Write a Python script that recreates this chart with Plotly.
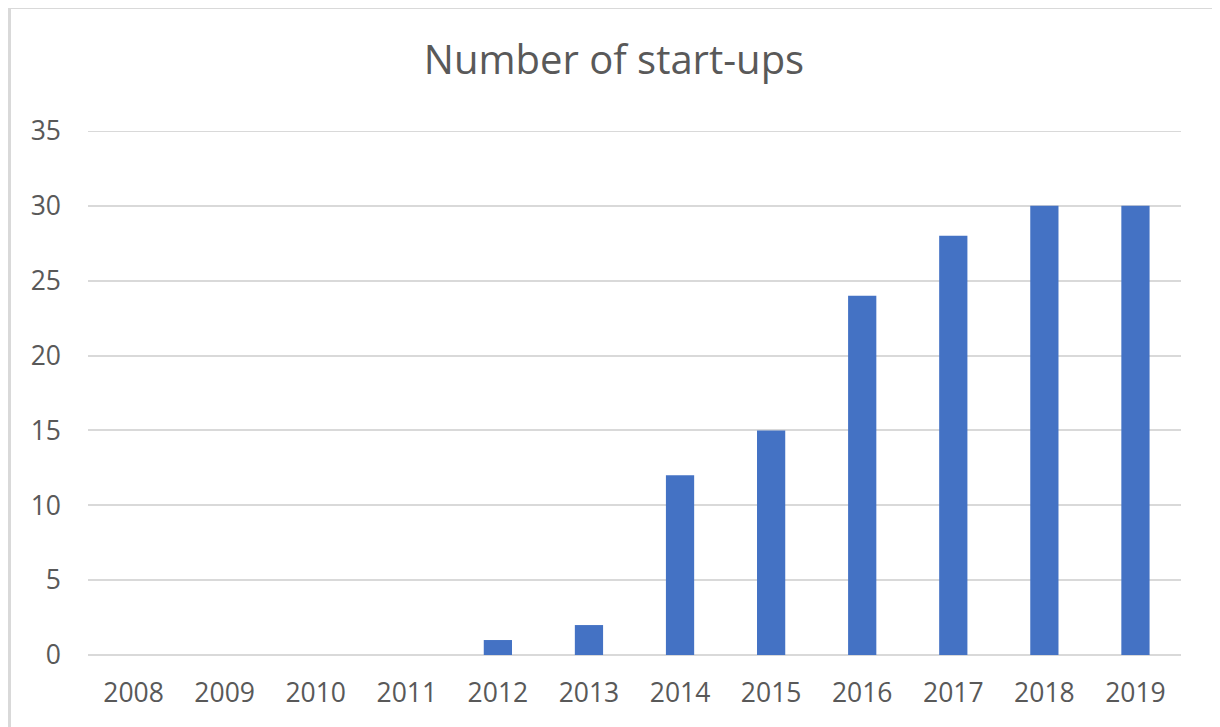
import plotly.graph_objects as go

years = ["2008", "2009", "2010", "2011", "2012", "2013", "2014", "2015", "2016", "2017", "2018", "2019"]
startups = [0, 0, 0, 0, 1, 2, 12, 15, 24, 28, 30, 30]
y_ticks = [0, 5, 10, 15, 20, 25, 30, 35]

# page has an 8px body margin, so the figure is sized to fit the window
W, H = 1212, 719
L, R, T, B = 80, 39, 123, 72
pw, ph = W - L - R, H - T - B

fig = go.Figure(go.Bar(x=years, y=startups, marker=dict(color="#4472C4", line=dict(width=0))))

fig.update_layout(
    width=W, height=H,
    margin=dict(l=L, r=R, t=T, b=B),
    paper_bgcolor="white", plot_bgcolor="white",
    bargap=0.69,
    showlegend=False,
    font=dict(family="Open Sans, Lato, sans-serif", color="#595959", size=26),
    title=dict(text="Number of start-ups", x=(614 - 8) / W, xanchor="center", y=1 - 52 / H, yanchor="middle",
               font=dict(size=40, color="#595959")),
    xaxis=dict(type="category", showgrid=False, zeroline=False, showline=False,
               ticks="", ticklabelstandoff=19, tickfont=dict(size=26.5)),
    yaxis=dict(range=[0, 35], tickvals=y_ticks, showgrid=True, gridcolor="#D9D9D9", gridwidth=2,
               zeroline=True, zerolinecolor="#D9D9D9", zerolinewidth=2, showline=False,
               ticks="", ticklabelstandoff=26, tickfont=dict(size=26.5)),
    shapes=[
        dict(type="line", xref="paper", yref="y", x0=0, x1=1, y0=y_ticks[-1], y1=y_ticks[-1],
             line=dict(color="#D9D9D9", width=2), layer="below"),
        dict(type="rect", xref="paper", yref="paper",
             x0=(1.5 - L) / pw, x1=(W + 30 - L) / pw,
             y0=-0.5, y1=(H - B + 0.5) / ph,
             line=dict(color="#D9D9D9", width=3), fillcolor="rgba(0,0,0,0)", layer="below"),
    ],
)

fig.write_html("out.html")
